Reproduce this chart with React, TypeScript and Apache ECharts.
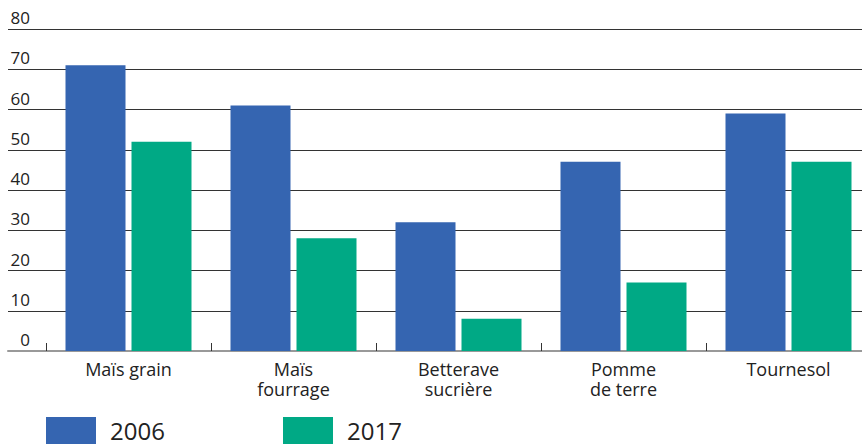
import React, { useEffect, useRef } from "react";
import * as echarts from "echarts";

const categories = ["Maïs grain", "Maïs\nfourrage", "Betterave\nsucrière", "Pomme\nde terre", "Tournesol"];
const values2006 = [71, 61, 32, 47, 59];
const values2017 = [52, 28, 8, 17, 47];
const seriesNames = ["2006", "2017"];
const colors = ["#3565b1", "#00a985"];

const FONT = "Open Sans";

export default function App() {
  const ref = useRef<HTMLDivElement>(null);
  useEffect(() => {
    if (!ref.current) return;
    const chart = echarts.init(ref.current, undefined, { renderer: "svg" });
    const legendBase = {
      top: 417,
      padding: 0,
      itemWidth: 50,
      itemHeight: 27,
      icon: "rect",
      textStyle: { fontSize: 24, color: "#222", fontFamily: FONT, padding: [0, 0, 0, 9] },
    };
    chart.setOption({
      animation: false,
      textStyle: { fontFamily: FONT },
      grid: [
        { left: 8, right: 18, top: 29, bottom: 96 },
        { left: 46, right: 9, top: 29, bottom: 96 },
      ],
      legend: [
        { ...legendBase, data: [seriesNames[0]], left: 46 },
        { ...legendBase, data: [seriesNames[1]], left: 283 },
      ],
      xAxis: [
        {
          type: "value",
          gridIndex: 0,
          min: 0,
          max: 1,
          axisLabel: { show: false },
          axisTick: { show: false },
          splitLine: { show: false },
          axisLine: { show: true, onZero: false, lineStyle: { color: "#999", width: 2 } },
        },
        {
          type: "category",
          gridIndex: 1,
          data: categories,
          axisLine: { show: false },
          axisTick: { show: true, inside: true, length: 8, lineStyle: { color: "#333", width: 1 } },
          axisLabel: {
            color: "#222",
            fontSize: 18,
            fontFamily: FONT,
            lineHeight: 20,
            margin: 8,
          },
        },
      ],
      yAxis: [
        {
          type: "value",
          gridIndex: 0,
          min: 0,
          max: 80,
          interval: 10,
          axisLine: { show: false },
          axisTick: { show: false },
          splitLine: { show: true, lineStyle: { color: "#333", width: 1 } },
          axisLabel: {
            inside: true,
            margin: 22,
            align: "right",
            verticalAlign: "bottom",
            padding: [0, 0, 3, 0],
            color: "#222",
            fontSize: 17,
            fontFamily: FONT,
          },
        },
        {
          type: "value",
          gridIndex: 1,
          min: 0,
          max: 80,
          interval: 10,
          show: false,
          splitLine: { show: false },
        },
      ],
      series: [
        {
          name: seriesNames[0],
          type: "bar",
          xAxisIndex: 1,
          yAxisIndex: 1,
          data: values2006,
          barWidth: 60,
          barGap: "10%",
          itemStyle: { color: colors[0] },
        },
        {
          name: seriesNames[1],
          type: "bar",
          xAxisIndex: 1,
          yAxisIndex: 1,
          data: values2017,
          barWidth: 60,
          barGap: "10%",
          itemStyle: { color: colors[1] },
        },
      ],
    });
    return () => chart.dispose();
  }, []);
  return (
    <div style={{ position: "absolute", left: 0, top: 0, width: 862, height: 447, overflow: "hidden" }}>
      <div ref={ref} style={{ width: 880, height: 447 }} />
    </div>
  );
}
